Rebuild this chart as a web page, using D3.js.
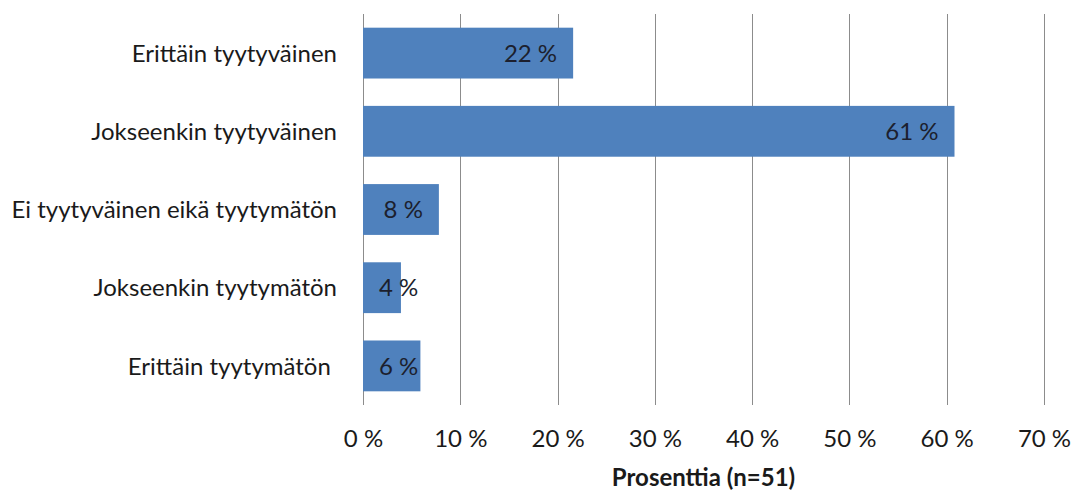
<!DOCTYPE html>
<html><head><meta charset="utf-8">
<script src="https://cdn.jsdelivr.net/npm/d3@7"></script>
<style>
html,body{margin:0;padding:0;background:#fff;}
text{font-family:Lato,"Open Sans",sans-serif;}
</style></head>
<body>
<svg id="chart" width="1075" height="490"></svg>
<script>
const categories = ["Erittäin tyytyväinen","Jokseenkin tyytyväinen","Ei tyytyväinen eikä tyytymätön","Jokseenkin tyytymätön","Erittäin tyytymätön "];
const values = [21.6, 60.8, 7.8, 3.9, 5.9];
const valueLabels = ["22 %","61 %","8 %","4 %","6 %"];
const ticks = [0,10,20,30,40,50,60,70];
const axisTitle = "Prosenttia (n=51)";

const svg = d3.select("#chart");
const m = {left:363, right:1044, top:14, bottom:405};
const x = d3.scaleLinear().domain([0,70]).range([m.left, m.right]);
const y = d3.scaleBand().domain(categories).range([m.top, m.bottom]).paddingInner(0.35).paddingOuter(0.175);
const FS = 24;

// grid
svg.append("g").selectAll("line").data(ticks).join("line")
  .attr("x1", d=>Math.round(x(d))+0.5).attr("x2", d=>Math.round(x(d))+0.5)
  .attr("y1", m.top).attr("y2", m.bottom)
  .attr("stroke", "#8c8c8c").attr("stroke-width", 1);

// x axis labels
const xAxis = d3.axisBottom(x).tickValues(ticks).tickSize(0).tickPadding(0).tickFormat(d=>d+" %");
const gx = svg.append("g").attr("transform", `translate(0,${m.bottom})`).call(xAxis);
gx.select(".domain").remove();
gx.selectAll("text").attr("y", 0).attr("dy", null).attr("transform","translate(0,42)")
  .attr("font-size", FS).attr("fill", "#1a1a1a").attr("font-family","Lato");

// y axis labels
const yAxis = d3.axisLeft(y).tickSize(0).tickPadding(0);
const gy = svg.append("g").attr("transform", `translate(337,0)`).call(yAxis);
gy.select(".domain").remove();
gy.selectAll("text").attr("font-size", FS).attr("fill", "#1a1a1a").attr("font-family","Lato")
  .attr("dy","0.36em").style("white-space","pre");

// bars
svg.append("g").selectAll("rect").data(values).join("rect")
  .attr("x", x(0)).attr("y", (d,i)=>y(categories[i]))
  .attr("width", d=>x(d)-x(0)).attr("height", y.bandwidth())
  .attr("fill", "#4f81bd");

// value labels
const lbl = svg.append("g").selectAll("text").data(values).join("text")
  .attr("y", (d,i)=>y(categories[i]) + y.bandwidth()/2)
  .attr("dy","0.36em")
  .attr("font-size", FS).attr("fill", "#1c1f2e").attr("font-family","Lato")
  .attr("text-anchor","end")
  .text((d,i)=>valueLabels[i]);
lbl.attr("x", function(d){
  const w = this.getComputedTextLength();
  return Math.max(x(d) - 16, x(0) + 16 + w);
});

// axis title
svg.append("text").attr("x", (m.left+m.right)/2).attr("y", 486)
  .attr("text-anchor","middle").attr("font-size", FS).attr("font-weight","bold")
  .attr("fill","#1a1a1a").attr("font-family","Lato").text(axisTitle);
</script>
</body></html>
